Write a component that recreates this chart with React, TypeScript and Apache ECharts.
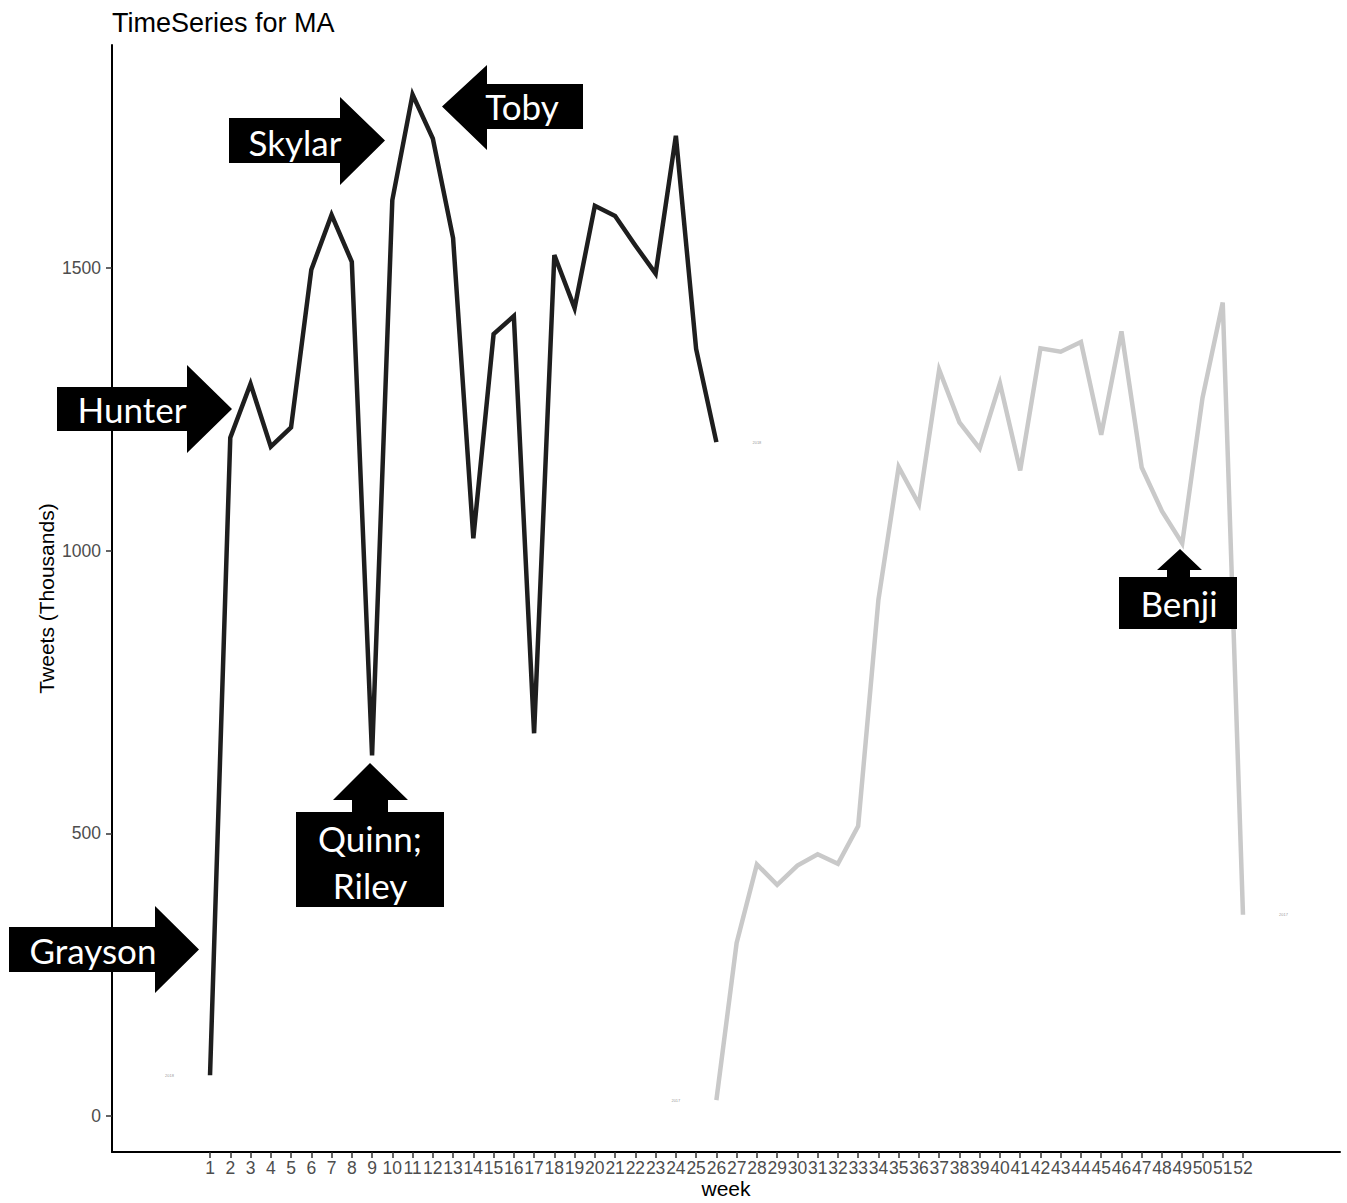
import React, { useEffect, useRef } from "react";
import * as echarts from "echarts";

// ---- data ----
const weeksFirstHalf = [1, 2, 3, 4, 5, 6, 7, 8, 9, 10, 11, 12, 13, 14, 15, 16, 17, 18, 19, 20, 21, 22, 23, 24, 25, 26];
const tweetsFirstHalf = [72, 1200, 1295, 1184, 1218, 1497, 1594, 1511, 638, 1620, 1807, 1729, 1553, 1022, 1383, 1415, 677, 1523, 1429, 1610, 1592, 1540, 1490, 1734, 1357, 1192];

const weeksSecondHalf = [26, 27, 28, 29, 30, 31, 32, 33, 34, 35, 36, 37, 38, 39, 40, 41, 42, 43, 44, 45, 46, 47, 48, 49, 50, 51, 52];
const tweetsSecondHalf = [28, 306, 445, 409, 443, 463, 446, 513, 913, 1148, 1082, 1320, 1227, 1181, 1296, 1142, 1358, 1352, 1369, 1205, 1388, 1147, 1070, 1013, 1270, 1439, 356];

const weekTickLabels = [1, 2, 3, 4, 5, 6, 7, 8, 9, 10, 11, 12, 13, 14, 15, 16, 17, 18, 19, 20, 21, 22, 23, 24, 25, 26, 27, 28, 29, 30, 31, 32, 33, 34, 35, 36, 37, 38, 39, 40, 41, 42, 43, 44, 45, 46, 47, 48, 49, 50, 51, 52];
const tweetTicks = [0, 500, 1000, 1500];

const yearFirstHalf = "2018";
const yearSecondHalf = "2017";

const X_MIN = -3.84;
const X_MAX = 56.79;
const Y_MIN = -63.7;
const Y_MAX = 1894.5;

const AXIS_FONT = "'Liberation Sans', Arial, Helvetica, sans-serif";
const NOTE_FONT = "Lato, 'Open Sans', sans-serif";

function endLabels(weeks: number[], values: number[], year: string) {
  const n = weeks.length;
  return [
    { value: [weeks[0] - 2, values[0]], year },
    { value: [weeks[n - 1] + 2, values[n - 1]], year },
  ];
}

function rightArrow(x0: number, x1: number, yTop: number, yBot: number, headTop: number, headBot: number, tipX: number) {
  const mid = (yTop + yBot) / 2;
  return [[x0, yTop], [x1, yTop], [x1, headTop], [tipX, mid], [x1, headBot], [x1, yBot], [x0, yBot]];
}
function leftArrow(x0: number, x1: number, yTop: number, yBot: number, headTop: number, headBot: number, tipX: number) {
  const mid = (yTop + yBot) / 2;
  return [[x1, yTop], [x0, yTop], [x0, headTop], [tipX, mid], [x0, headBot], [x0, yBot], [x1, yBot]];
}
function upCallout(rx0: number, rx1: number, ry0: number, ry1: number, sx0: number, sx1: number, sy: number, hx0: number, hx1: number, apexX: number, apexY: number) {
  return [[rx0, ry0], [sx0, ry0], [sx0, sy], [hx0, sy], [apexX, apexY], [hx1, sy], [sx1, sy], [sx1, ry0], [rx1, ry0], [rx1, ry1], [rx0, ry1]];
}

function noteText(text: string, x: number, y: number, size = 35) {
  return {
    type: "text",
    x,
    y,
    z: 101,
    style: { text, fill: "#ffffff", fontFamily: NOTE_FONT, fontSize: size, align: "center", verticalAlign: "middle" },
  };
}
function notePoly(points: number[][]) {
  return { type: "polygon", z: 100, shape: { points }, style: { fill: "#000000" } };
}

export default function App() {
  const ref = useRef<HTMLDivElement>(null);
  useEffect(() => {
    if (!ref.current) return;
    const chart = echarts.init(ref.current, null, { renderer: "svg" });
    const option: any = {
      animation: false,
      backgroundColor: "#ffffff",
      title: {
        text: "TimeSeries for MA",
        left: 107,
        top: 4,
        textStyle: { fontFamily: AXIS_FONT, fontSize: 27, fontWeight: "normal", color: "#000" },
      },
      grid: { left: 112, right: 7, top: 45, bottom: 51, containLabel: false, outerBoundsMode: "none" },
      xAxis: {
        type: "value",
        min: X_MIN,
        max: X_MAX,
        name: "week",
        nameLocation: "middle",
        nameGap: 26,
        nameMoveOverlap: false,
        nameTextStyle: { fontFamily: AXIS_FONT, fontSize: 21, color: "#000", lineHeight: 21 },
        axisLine: { show: true, onZero: false, lineStyle: { color: "#000", width: 2 } },
        axisTick: { show: true, customValues: weekTickLabels, length: 6, lineStyle: { color: "#333", width: 1.5 } },
        axisLabel: {
          customValues: weekTickLabels,
          interval: 0,
          hideOverlap: false,
          margin: 7,
          fontFamily: AXIS_FONT,
          fontSize: 17.5,
          color: "#4d4d4d",
          formatter: (v: number) => String(v),
        },
        splitLine: { show: false },
      },
      yAxis: {
        type: "value",
        min: Y_MIN,
        max: Y_MAX,
        name: "Tweets (Thousands)",
        nameLocation: "middle",
        nameGap: 55,
        nameMoveOverlap: false,
        nameRotate: 90,
        nameTextStyle: { fontFamily: AXIS_FONT, fontSize: 21, color: "#000" },
        axisLine: { show: true, onZero: false, lineStyle: { color: "#000", width: 2 } },
        axisTick: { show: true, customValues: tweetTicks, length: 6, lineStyle: { color: "#333", width: 1.5 } },
        axisLabel: {
          customValues: tweetTicks,
          margin: 11,
          fontFamily: AXIS_FONT,
          fontSize: 17.5,
          color: "#4d4d4d",
          formatter: (v: number) => String(v),
        },
        splitLine: { show: false },
      },
      series: [
        {
          type: "line",
          data: weeksSecondHalf.map((w, i) => [w, tweetsSecondHalf[i]]),
          showSymbol: false,
          symbol: "none",
          lineStyle: { color: "#c9c9c9", width: 4.5, join: "miter" },
          z: 2,
        },
        {
          type: "line",
          data: weeksFirstHalf.map((w, i) => [w, tweetsFirstHalf[i]]),
          showSymbol: false,
          symbol: "none",
          lineStyle: { color: "#1e1e1e", width: 4.5, join: "miter" },
          z: 3,
        },
        {
          type: "scatter",
          symbolSize: 0,
          data: [
            ...endLabels(weeksFirstHalf, tweetsFirstHalf, yearFirstHalf),
            ...endLabels(weeksSecondHalf, tweetsSecondHalf, yearSecondHalf),
          ],
          label: {
            show: true,
            position: "inside",
            formatter: (p: any) => p.data.year,
            fontSize: 4,
            color: "#777",
            fontFamily: AXIS_FONT,
          },
          silent: true,
          z: 4,
        },
      ],
      graphic: [
        notePoly(rightArrow(229, 340, 118, 163, 97, 185, 385)),
        noteText("Skylar", 295, 142),
        notePoly(leftArrow(487, 583, 84, 129, 65, 150, 442)),
        noteText("Toby", 522, 106),
        notePoly(rightArrow(57, 187, 387, 431, 365, 453, 232)),
        noteText("Hunter", 132, 409),
        notePoly(rightArrow(9, 155, 927, 972, 906, 993, 199)),
        noteText("Grayson", 93, 950),
        notePoly(upCallout(296, 444, 812, 907, 352, 388, 800, 333, 408, 370, 763)),
        noteText("Quinn;", 370, 838),
        noteText("Riley", 370, 885),
        notePoly(upCallout(1119, 1237, 577, 629, 1167, 1190, 570, 1157, 1202, 1180, 549)),
        noteText("Benji", 1179, 603),
      ],
    };
    chart.setOption(option);
    return () => chart.dispose();
  }, []);
  return (
    <div
      ref={ref}
      style={{ position: "absolute", left: 0, top: 0, width: 1347, height: 1203, background: "#fff" }}
    />
  );
}
